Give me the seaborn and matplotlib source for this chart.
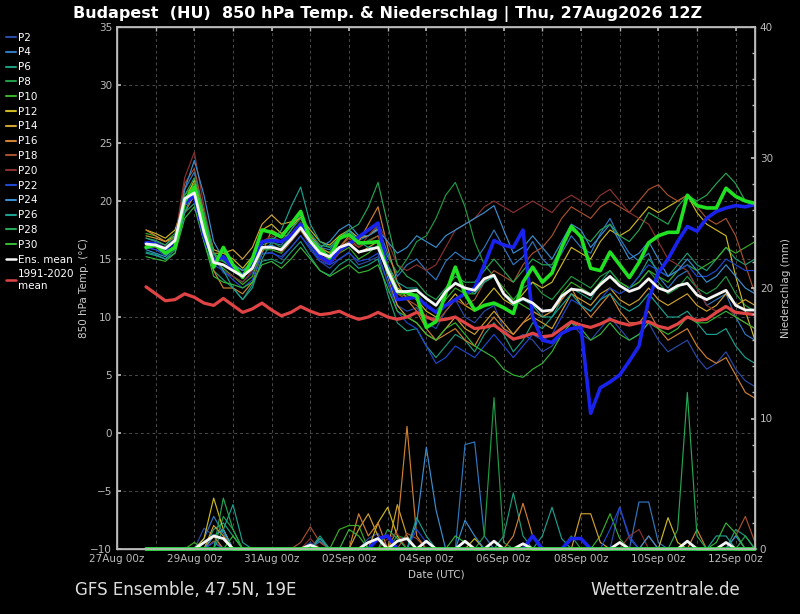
import numpy as np
import pandas as pd
import matplotlib
matplotlib.use("Agg")
import matplotlib.pyplot as plt
import matplotlib.dates as mdates
from matplotlib.lines import Line2D
import seaborn as sns

# ---------------- data ----------------
start_time = "2026-08-27 18:00"
n_steps = 64

members = ["P2", "P4", "P6", "P8", "P10", "P12", "P14", "P16", "P18", "P20",
           "P22", "P24", "P26", "P28", "P30"]
member_colors = ["#2a4aa8", "#2f78c0", "#1c9c7c", "#1f9a45", "#38ad25", "#cdb820",
                 "#d0a030", "#d08030", "#a8502e", "#8a3030", "#2048d0", "#3a8ed0",
                 "#1aa090", "#25a555", "#35b535"]

t_P2 = [16.0,15.8,15.3,16.2,19.6,20.3,17.8,15.2, 13.8,13.5,13.0,13.8,15.4,15.6,15.0,16.0,
        17.0,16.0,14.8,14.2,15.0,15.6,14.5,14.8, 15.2,13.0,11.0,10.5,10.8,9.5,9.0,10.5,
        11.5,10.0,9.5,10.5,11.0,9.0,8.0,8.5, 8.0,7.0,7.5,8.5,9.5,8.5,8.0,9.0,
        10.0,9.0,8.0,8.5,9.5,8.0,7.0,7.5, 8.0,6.5,5.5,6.0,7.0,5.5,4.5,4.0]
t_P4 = [16.8,16.5,16.2,17.0,21.0,22.5,19.0,15.5, 14.8,14.6,14.0,14.8,16.5,16.4,16.2,17.5,
        18.8,17.2,16.0,15.8,16.8,17.4,16.6,17.0, 17.8,15.5,13.5,14.5,15.0,14.0,13.2,14.8,
        15.6,15.0,14.8,16.0,17.5,16.0,14.5,15.2, 16.5,15.0,14.2,15.5,17.0,16.0,15.5,17.2,
        18.5,16.8,15.5,14.8,15.5,13.5,12.5,13.5, 14.0,12.5,11.0,11.5,12.0,10.0,8.5,8.0]
t_P6 = [15.6,15.4,15.0,15.8,19.0,19.8,16.5,14.0, 13.2,12.5,11.5,12.8,14.8,15.0,14.6,15.6,
        16.5,15.2,14.0,13.6,14.5,15.0,14.2,14.5, 15.0,12.0,9.5,8.8,9.0,7.5,6.5,7.5,
        8.5,8.0,7.0,8.5,9.5,8.5,7.0,8.0, 9.5,9.0,10.0,11.5,12.5,12.0,11.5,13.0,
        14.0,13.0,12.5,13.5,15.0,14.0,13.5,14.5, 15.5,14.5,14.0,15.0,16.0,15.0,14.5,15.0]
t_P8 = [16.5,16.3,16.0,16.8,20.0,21.0,18.0,15.0, 14.8,14.5,14.0,14.6,16.2,16.5,16.0,17.0,
        18.0,16.8,15.8,15.6,16.6,17.2,16.2,16.6, 17.0,15.2,13.8,15.0,16.5,17.0,18.5,20.5,
        21.6,19.5,16.5,14.5,13.5,12.0,11.5,12.5, 13.0,12.0,11.5,12.5,13.5,13.0,12.5,13.5,
        14.0,13.0,12.5,13.0,14.0,13.0,12.0,12.5, 13.5,12.5,12.0,12.5,13.5,12.0,11.0,10.5]
t_P10 = [17.2,17.0,16.5,17.2,20.5,21.5,18.5,15.0, 14.2,13.5,12.8,13.5,15.8,15.8,15.5,16.5,
         17.5,16.2,15.0,14.8,15.5,16.0,15.0,15.5, 16.2,14.0,12.0,11.8,12.0,11.0,10.5,11.5,
         12.5,12.0,12.0,13.0,13.5,12.5,11.5,11.0, 10.5,10.0,10.5,12.0,13.0,12.5,12.0,13.0,
         13.5,13.0,12.5,13.0,14.0,13.5,13.0,14.0, 14.5,14.0,14.5,15.0,16.0,15.5,16.0,16.5]
t_P12 = [17.5,17.2,16.8,17.5,20.0,21.8,18.8,15.8, 15.5,15.0,14.2,15.2,17.5,18.0,17.2,17.8,
         18.6,17.5,16.5,16.2,17.0,17.5,16.8,17.0, 17.6,14.5,12.5,12.0,11.5,10.5,10.0,11.0,
         12.0,11.0,10.5,11.5,12.5,11.5,11.0,12.0, 13.0,12.5,13.0,14.5,16.0,15.5,15.0,16.5,
         17.5,17.0,17.5,18.5,19.5,19.0,19.5,20.0, 20.5,19.0,18.0,17.5,17.0,13.5,10.5,8.0]
t_P14 = [17.0,16.8,16.5,17.0,19.5,21.0,18.0,15.5, 15.5,15.8,15.0,16.0,18.0,18.8,18.0,18.2,
         18.5,17.0,16.0,15.5,16.0,16.5,15.5,16.0, 16.5,13.5,11.0,10.0,9.5,8.5,8.0,9.0,
         10.0,9.0,8.5,9.5,10.5,9.5,8.5,9.5, 10.0,9.5,9.0,10.5,12.0,11.5,11.0,12.0,
         12.5,11.5,11.0,11.5,12.5,11.5,11.0,11.5, 12.0,11.0,10.5,11.0,12.0,11.0,11.5,11.0]
t_P16 = [17.5,17.0,16.5,16.8,19.0,20.5,18.5,14.0, 12.5,12.5,12.0,13.0,15.5,17.5,17.0,17.0,
         17.5,16.5,15.5,15.0,16.0,17.0,16.5,18.0, 19.5,16.0,13.0,11.5,10.5,9.0,8.0,8.5,
         9.0,8.0,7.5,9.0,10.0,9.0,8.5,9.5, 10.5,10.0,10.5,11.5,12.5,11.0,10.0,11.0,
         12.0,10.5,9.5,9.5,10.5,9.0,8.0,8.5, 9.0,7.5,6.5,6.0,6.5,5.0,3.5,3.0]
t_P18 = [16.2,16.0,15.7,16.5,21.5,22.8,19.0,15.0, 14.5,14.0,13.5,14.5,16.0,16.2,15.6,16.5,
         17.5,16.2,15.2,15.0,16.0,16.8,16.0,16.5, 17.0,14.5,12.0,11.5,11.0,10.0,9.5,10.5,
         11.5,11.0,11.5,13.0,14.0,13.5,13.0,14.5, 15.5,16.0,17.0,18.5,19.5,19.0,18.5,19.5,
         20.0,19.5,19.0,20.0,21.0,21.4,20.5,20.0, 20.5,19.5,18.5,18.0,18.5,17.0,14.5,12.0]
t_P20 = [16.5,16.4,16.0,16.8,22.0,24.2,19.5,15.5, 14.0,13.5,13.0,14.0,16.5,17.0,16.5,17.2,
         18.2,16.5,15.0,14.5,15.5,16.5,16.0,17.0, 18.0,16.5,14.5,14.0,14.5,14.0,14.5,16.0,
         17.5,18.0,18.5,19.5,20.0,19.5,19.0,19.5, 20.0,19.5,19.0,20.0,20.5,20.0,19.5,20.5,
         21.0,20.0,19.0,18.5,18.0,16.5,15.0,14.5, 14.0,12.5,11.0,10.5,11.0,10.0,9.5,9.0]
t_P22 = [16.0,15.8,15.5,16.2,19.8,20.8,17.5,14.5, 14.0,13.2,12.5,13.2,15.5,15.5,15.2,16.0,
         17.0,15.8,14.8,14.5,15.0,15.5,14.8,15.0, 15.5,13.0,10.5,9.5,9.0,7.5,6.0,6.5,
         7.5,7.0,6.5,7.5,8.5,7.5,6.5,7.5, 8.5,8.0,8.5,10.0,11.5,11.0,10.5,11.5,
         12.5,12.0,12.5,13.5,14.5,14.0,13.5,14.0, 14.5,13.5,13.5,14.0,15.0,14.5,14.0,14.0]
t_P24 = [15.8,15.5,15.2,16.0,21.0,23.5,20.5,16.5, 15.0,14.5,14.0,14.5,16.0,16.2,15.8,16.8,
         17.8,16.8,16.0,16.5,17.5,18.0,17.0,17.0, 17.5,16.5,15.5,16.0,17.0,16.5,16.0,17.0,
         17.5,18.0,18.5,19.0,19.6,17.5,15.5,16.0, 17.0,16.0,15.0,16.5,18.0,17.5,16.0,17.0,
         18.0,16.5,15.0,15.5,16.5,15.0,13.5,14.0, 15.0,14.0,13.0,13.5,14.5,13.5,12.5,12.0]
t_P26 = [15.5,15.3,15.0,15.5,19.0,21.0,18.5,15.5, 14.0,12.5,11.5,12.5,15.0,16.5,17.5,19.5,
         21.2,18.0,16.5,16.0,16.8,17.5,16.5,16.0, 16.0,14.5,13.0,12.5,12.5,11.5,11.0,12.0,
         13.0,12.5,12.0,13.0,13.5,12.0,11.0,11.5, 11.0,10.0,10.0,11.0,12.0,11.0,10.5,11.5,
         12.0,11.0,10.5,11.0,12.0,11.0,10.0,10.0, 10.5,9.5,8.5,8.5,9.0,7.5,6.5,6.0]
t_P28 = [16.8,16.6,16.2,17.0,20.5,22.0,19.0,15.5, 14.8,14.2,13.5,14.5,16.5,16.8,16.5,17.5,
         18.5,17.2,16.2,16.0,16.8,17.5,18.0,19.5, 21.6,18.0,14.5,13.5,13.0,12.0,11.5,12.5,
         13.5,13.0,13.0,14.0,15.0,14.0,13.0,14.0, 15.0,14.5,14.5,16.0,17.5,17.0,16.5,17.5,
         18.0,17.0,16.5,17.5,19.0,18.5,18.0,19.5, 20.5,20.0,20.5,21.5,22.4,21.5,20.0,19.5]
t_P30 = [15.2,15.0,14.8,15.5,18.5,19.5,16.5,13.5, 13.0,12.8,12.5,13.0,14.5,14.8,14.2,15.0,
         16.0,15.0,14.0,13.5,14.0,14.5,13.8,14.0, 14.5,12.5,10.5,10.0,9.5,8.5,8.0,9.0,
         9.5,8.5,7.5,7.0,6.5,5.5,5.0,4.8, 5.5,6.0,7.0,8.5,9.5,9.0,8.0,8.5,
         9.5,8.5,8.0,8.5,9.5,9.0,8.5,9.0, 10.0,9.5,9.5,10.0,10.5,10.0,9.5,9.0]

t_green = [16.0,16.2,15.5,16.0,20.0,21.2,18.0,14.3, 16.0,14.5,13.4,15.0,17.5,17.3,16.9,18.0,
           19.1,16.6,15.8,15.1,16.8,17.1,16.4,16.4, 16.5,14.0,12.2,12.1,11.8,9.1,9.6,12.0,
           14.3,12.0,10.6,11.0,11.2,10.8,10.3,13.0, 14.3,13.0,13.8,16.0,17.8,16.9,14.2,14.0,
           15.6,14.5,13.4,14.7,16.4,17.0,17.3,17.3, 20.5,19.6,19.4,19.4,21.1,20.4,20.0,19.8]
t_blue = [16.4,16.3,15.8,16.6,19.8,20.5,17.0,14.8, 15.2,14.2,13.6,14.5,16.5,16.6,16.5,17.0,
          18.0,16.4,15.2,14.7,15.8,16.3,16.9,17.5, 18.1,14.0,11.5,11.6,11.7,11.0,10.4,11.0,
          11.5,12.0,12.5,14.5,16.6,16.2,16.0,17.5, 10.0,8.0,7.8,8.6,9.0,9.1,1.7,3.9,
          4.4,5.0,6.2,7.5,11.5,13.8,15.0,16.5, 17.8,17.4,18.5,19.1,19.4,19.6,19.5,19.7]
t_mean = [16.3,16.2,15.9,16.6,20.2,20.7,17.3,14.7, 14.5,14.0,13.5,14.2,16.0,16.0,15.8,16.7,
          17.7,16.5,15.5,15.2,16.0,16.3,15.6,15.8, 16.0,14.0,12.2,12.2,12.3,11.6,11.0,12.2,
          12.9,12.5,12.3,13.3,13.6,12.0,11.2,11.6, 11.2,10.5,10.6,11.8,12.4,12.3,11.9,12.8,
          13.5,12.7,12.2,12.5,13.3,12.5,12.2,12.7, 12.9,11.9,11.5,11.9,12.3,11.0,10.6,10.6]
t_clim = [12.6,12.0,11.4,11.5,12.0,11.7,11.2,11.0, 11.6,11.0,10.4,10.7,11.2,10.6,10.1,10.4,
          10.9,10.5,10.2,10.3,10.5,10.1,9.8,10.0, 10.4,10.0,9.8,10.0,10.4,10.0,9.7,9.8,
          10.0,9.5,9.0,9.1,9.3,8.7,8.1,8.3, 8.6,8.3,8.4,9.0,9.6,9.3,9.1,9.4,
          9.8,9.5,9.3,9.5,9.6,9.2,9.0,9.4, 10.0,9.7,9.8,10.4,10.9,10.4,10.3,10.2]

# precipitation (mm per 6 h): (step index, amount); all other steps are 0
p_P2 = [(6, 1.6), (7, 1.0), (17, 0.5), (23, 0.8), (24, 1.2), (49, 3.2), (50, 0.8)]
p_P4 = [(6, 0.8), (7, 2.5), (8, 1.2), (18, 0.6), (33, 8.0), (34, 8.2), (35, 1.0), (51, 3.6), (52, 3.6), (53, 0.5)]
p_P6 = [(7, 1.5), (8, 2.0), (9, 1.0), (18, 1.0), (37, 1.0), (38, 4.3), (39, 1.0), (61, 1.5), (62, 1.0)]
p_P8 = [(8, 2.5), (9, 1.5), (26, 1.0), (27, 0.8), (35, 1.0), (36, 11.6), (37, 0.5), (44, 1.0)]
p_P10 = [(5, 0.5), (7, 1.0), (8, 1.5), (20, 1.5), (21, 1.8), (22, 1.8), (47, 1.0), (48, 2.7), (49, 0.8)]
p_P12 = [(6, 0.8), (7, 3.9), (8, 1.5), (24, 2.0), (25, 3.2), (26, 1.0), (34, 0.8), (54, 2.4), (55, 0.5)]
p_P14 = [(7, 1.8), (8, 1.0), (22, 1.5), (23, 2.7), (24, 1.0), (26, 3.4), (27, 1.0), (45, 2.7), (46, 2.7), (47, 0.5)]
p_P16 = [(7, 1.0), (22, 2.7), (23, 1.0), (24, 2.0), (26, 1.5), (27, 9.4), (28, 1.0), (38, 1.0), (39, 3.5), (40, 1.0), (57, 1.5)]
p_P18 = [(7, 0.6), (16, 0.5), (17, 1.7), (18, 0.5), (27, 1.2), (28, 0.8), (52, 1.0), (61, 1.0), (62, 2.5), (63, 0.5)]
p_P20 = [(17, 0.8), (25, 0.8), (26, 1.2), (50, 1.0), (51, 1.5)]
p_P22 = [(7, 0.5), (24, 0.8), (25, 1.0), (28, 1.5), (29, 0.5), (48, 1.5), (49, 3.2), (50, 1.0)]
p_P24 = [(7, 1.0), (8, 1.5), (18, 0.8), (28, 2.0), (29, 7.8), (30, 3.0), (33, 2.2), (34, 1.0), (52, 1.0), (61, 1.0)]
p_P26 = [(8, 1.5), (9, 3.4), (10, 0.5), (18, 0.8), (28, 2.4), (29, 1.0), (41, 1.0), (42, 3.2), (43, 0.8), (59, 1.0), (60, 1.0)]
p_P28 = [(8, 3.9), (9, 1.5), (25, 1.5), (26, 0.8), (55, 1.5), (56, 12.0), (57, 1.0), (62, 1.0)]
p_P30 = [(9, 1.0), (21, 1.5), (22, 1.0), (32, 1.0), (33, 0.5), (59, 0.5), (60, 2.0), (61, 1.2)]
p_mean = [(6, 0.5), (7, 1.0), (8, 0.8), (17, 0.3), (23, 0.5), (24, 0.8), (26, 0.6), (27, 0.8),
          (29, 0.6), (33, 0.6), (36, 0.6), (39, 0.4), (49, 0.5), (56, 0.6), (60, 0.5)]
p_blue = [(24, 0.8), (25, 1.0), (40, 1.0), (44, 0.8), (45, 0.8)]
p_green = []

x_tick_start = "2026-08-27 00:00"
x_tick_count = 9
x_tick_labels_fmt = "%d%b %Hz"
y_ticks_temp = [-10, -5, 0, 5, 10, 15, 20, 25, 30, 35]
y_ticks_prec = [0, 10, 20, 30, 40]

# ---------------- build frames ----------------
times = pd.date_range(start_time, periods=n_steps, freq="6h")
temps = [t_P2, t_P4, t_P6, t_P8, t_P10, t_P12, t_P14, t_P16, t_P18, t_P20,
         t_P22, t_P24, t_P26, t_P28, t_P30]
precs = [p_P2, p_P4, p_P6, p_P8, p_P10, p_P12, p_P14, p_P16, p_P18, p_P20,
         p_P22, p_P24, p_P26, p_P28, p_P30]


def expand(sparse):
    arr = np.zeros(n_steps)
    for i, v in sparse:
        arr[i] = v
    return arr


rows = []
for m, tv, pv in zip(members, temps, precs):
    pe = expand(pv)
    for k in range(n_steps):
        rows.append((times[k], m, tv[k], pe[k]))
df = pd.DataFrame(rows, columns=["time", "member", "temp", "prec"])

single = pd.DataFrame({"time": times, "green": t_green, "blue": t_blue,
                       "mean": t_mean, "clim": t_clim,
                       "p_mean": expand(p_mean), "p_blue": expand(p_blue),
                       "p_green": expand(p_green)})

# ---------------- style ----------------
sns.set_theme(style="dark")
plt.rcParams.update({
    "figure.facecolor": "black", "axes.facecolor": "black", "savefig.facecolor": "black",
    "axes.edgecolor": "#bbbbbb", "text.color": "#dddddd", "axes.labelcolor": "#cccccc",
    "xtick.color": "#bbbbbb", "ytick.color": "#bbbbbb",
})
plt.rcParams["font.family"] = ["DejaVu Sans"]

fig = plt.figure(figsize=(8.0, 6.14), dpi=100)
ax = fig.add_axes([117 / 800, 1 - 549 / 614, (755 - 117) / 800, (549 - 27) / 614])
ax.set_facecolor("black")

palette = dict(zip(members, member_colors))
sns.lineplot(data=df, x="time", y="temp", hue="member", palette=palette,
             linewidth=0.85, legend=False, errorbar=None, ax=ax, zorder=2)
sns.lineplot(data=single, x="time", y="clim", color="#e04444", linewidth=2.3, ax=ax, zorder=3)
sns.lineplot(data=single, x="time", y="blue", color="#1a22ee", linewidth=2.6, ax=ax, zorder=4)
sns.lineplot(data=single, x="time", y="green", color="#22e022", linewidth=2.6, ax=ax, zorder=5)
sns.lineplot(data=single, x="time", y="mean", color="#f4f4f4", linewidth=2.0, ax=ax, zorder=6)

ax.set_ylim(-10, 35)
ax.set_yticks(y_ticks_temp)
ax.set_xlim(pd.Timestamp("2026-08-27 00:00"), pd.Timestamp("2026-09-12 12:00"))
ax.set_xticks(pd.date_range(x_tick_start, periods=x_tick_count, freq="2D"))
ax.xaxis.set_minor_locator(mdates.DayLocator(interval=1))
ax.xaxis.set_major_formatter(mdates.DateFormatter(x_tick_labels_fmt))
ax.grid(True, which="both", axis="x", color="#4a4a4a", linestyle=(0, (3, 3)), linewidth=0.7)
ax.grid(True, which="major", axis="y", color="#4a4a4a", linestyle=(0, (3, 3)), linewidth=0.7)
ax.tick_params(axis="both", which="both", direction="in", labelsize=7.5, top=True,
               length=3, colors="#bbbbbb")
for s in ax.spines.values():
    s.set_color("#bbbbbb")
    s.set_linewidth(1.0)
ax.set_ylabel("850 hPa Temp. (°C)", fontsize=7.5, color="#cccccc", labelpad=1)

ax2 = ax.twinx()
sns.lineplot(data=df, x="time", y="prec", hue="member", palette=palette,
             linewidth=0.85, legend=False, errorbar=None, ax=ax2)
sns.lineplot(data=single, x="time", y="p_blue", color="#1a22ee", linewidth=2.6, ax=ax2)
sns.lineplot(data=single, x="time", y="p_mean", color="#f4f4f4", linewidth=2.0, ax=ax2)
sns.lineplot(data=single, x="time", y="p_green", color="#22e022", linewidth=2.6, ax=ax2)
for ln in ax2.get_lines():
    ln.set_clip_on(False)
ax2.set_ylim(0, 40)
ax2.set_yticks(y_ticks_prec)
ax2.set_yticks(np.arange(0, 41, 2), minor=True)
ax2.tick_params(axis="y", which="both", direction="in", labelsize=7.5, colors="#bbbbbb", length=3)
ax2.tick_params(axis="y", which="minor", length=2)
ax2.set_ylabel("Niederschlag (mm)", fontsize=7.5, color="#cccccc", labelpad=6)
ax2.set_xlabel("")
ax2.grid(False)
ax.set_xlabel("Date (UTC)", fontsize=7.5, color="#cccccc", labelpad=4)

# legend
handles = [Line2D([0], [0], color=c, lw=1.5) for c in member_colors]
labels = list(members)
handles += [Line2D([0], [0], color="#f4f4f4", lw=1.8), Line2D([0], [0], color="#e04444", lw=1.8)]
labels += ["Ens. mean", "1991-2020\nmean"]
leg = fig.legend(handles, labels, loc="upper left", bbox_to_anchor=(0.0, 0.957),
                 frameon=False, fontsize=7.5, labelcolor="white", handlelength=0.9,
                 handletextpad=0.25, labelspacing=0.46, borderaxespad=0.2)

fig.text(0.485, 0.99, "Budapest  (HU)  850 hPa Temp. & Niederschlag | Thu, 27Aug2026 12Z",
         ha="center", va="top", fontsize=11.5, fontweight="bold", color="white")
fig.text(75 / 800, 1 - 590 / 614, "GFS Ensemble, 47.5N, 19E", ha="left", va="center",
         fontsize=12, color="#dddddd")
fig.text(740 / 800, 1 - 590 / 614, "Wetterzentrale.de", ha="right", va="center",
         fontsize=12, color="#dddddd")

fig.savefig("out.png", dpi=100, facecolor="black")
